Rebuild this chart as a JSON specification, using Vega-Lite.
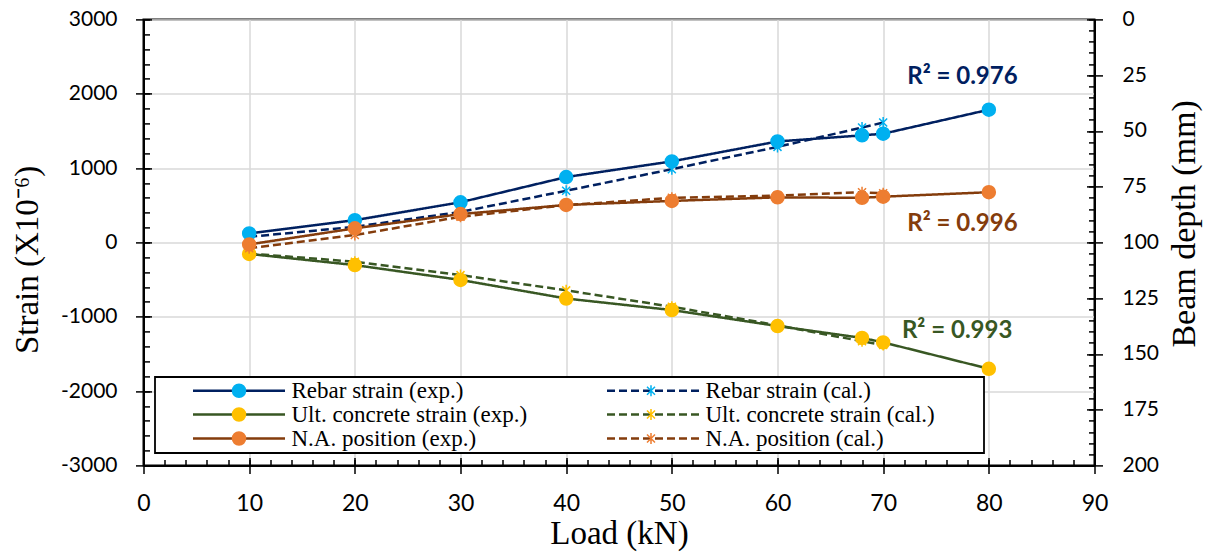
{
  "$schema": "https://vega.github.io/schema/vega-lite/v6.json",
  "width": 951,
  "height": 446,
  "autosize": {"type": "none"},
  "padding": {"left": 143.5, "top": 19.4, "right": 113.5, "bottom": 88.6},
  "background": "white",
  "config": {
    "font": "Lato",
    "view": {"stroke": "black", "strokeWidth": 2},
    "axis": {
      "domainColor": "black", "domainWidth": 2, "tickColor": "black", "tickWidth": 1.5,
      "labelColor": "black", "titleColor": "black", "titleFontWeight": "normal",
      "labelOverlap": false, "labelFlush": false, "labelBound": false,
      "gridColor": "#d9d9d9", "gridWidth": 1.5
    }
  },
  "datasets": {
    "strain": [
      {"load": 10, "series": "Rebar strain (exp.)", "strain": 121},
      {"load": 20, "series": "Rebar strain (exp.)", "strain": 299},
      {"load": 30, "series": "Rebar strain (exp.)", "strain": 540},
      {"load": 40, "series": "Rebar strain (exp.)", "strain": 879},
      {"load": 50, "series": "Rebar strain (exp.)", "strain": 1090},
      {"load": 60, "series": "Rebar strain (exp.)", "strain": 1358},
      {"load": 68, "series": "Rebar strain (exp.)", "strain": 1440},
      {"load": 70, "series": "Rebar strain (exp.)", "strain": 1462},
      {"load": 80, "series": "Rebar strain (exp.)", "strain": 1785},
      {"load": 10, "series": "Rebar strain (cal.)", "strain": 75},
      {"load": 20, "series": "Rebar strain (cal.)", "strain": 210},
      {"load": 30, "series": "Rebar strain (cal.)", "strain": 410},
      {"load": 40, "series": "Rebar strain (cal.)", "strain": 695},
      {"load": 50, "series": "Rebar strain (cal.)", "strain": 985},
      {"load": 60, "series": "Rebar strain (cal.)", "strain": 1285},
      {"load": 68, "series": "Rebar strain (cal.)", "strain": 1545},
      {"load": 70, "series": "Rebar strain (cal.)", "strain": 1612},
      {"load": 10, "series": "Ult. concrete strain (exp.)", "strain": -155},
      {"load": 20, "series": "Ult. concrete strain (exp.)", "strain": -305},
      {"load": 30, "series": "Ult. concrete strain (exp.)", "strain": -505},
      {"load": 40, "series": "Ult. concrete strain (exp.)", "strain": -755},
      {"load": 50, "series": "Ult. concrete strain (exp.)", "strain": -910},
      {"load": 60, "series": "Ult. concrete strain (exp.)", "strain": -1125},
      {"load": 68, "series": "Ult. concrete strain (exp.)", "strain": -1285},
      {"load": 70, "series": "Ult. concrete strain (exp.)", "strain": -1345},
      {"load": 80, "series": "Ult. concrete strain (exp.)", "strain": -1700},
      {"load": 10, "series": "Ult. concrete strain (cal.)", "strain": -150},
      {"load": 20, "series": "Ult. concrete strain (cal.)", "strain": -260},
      {"load": 30, "series": "Ult. concrete strain (cal.)", "strain": -440},
      {"load": 40, "series": "Ult. concrete strain (cal.)", "strain": -645},
      {"load": 50, "series": "Ult. concrete strain (cal.)", "strain": -865},
      {"load": 60, "series": "Ult. concrete strain (cal.)", "strain": -1115},
      {"load": 68, "series": "Ult. concrete strain (cal.)", "strain": -1330},
      {"load": 70, "series": "Ult. concrete strain (cal.)", "strain": -1380}
    ],
    "depth": [
      {"load": 10, "series": "N.A. position (exp.)", "depth": 100.9},
      {"load": 20, "series": "N.A. position (exp.)", "depth": 93.7},
      {"load": 30, "series": "N.A. position (exp.)", "depth": 87.3},
      {"load": 40, "series": "N.A. position (exp.)", "depth": 83.2},
      {"load": 50, "series": "N.A. position (exp.)", "depth": 81.4},
      {"load": 60, "series": "N.A. position (exp.)", "depth": 79.8},
      {"load": 68, "series": "N.A. position (exp.)", "depth": 80.0},
      {"load": 70, "series": "N.A. position (exp.)", "depth": 79.5},
      {"load": 80, "series": "N.A. position (exp.)", "depth": 77.5},
      {"load": 10, "series": "N.A. position (cal.)", "depth": 102.6},
      {"load": 20, "series": "N.A. position (cal.)", "depth": 96.7},
      {"load": 30, "series": "N.A. position (cal.)", "depth": 88.5},
      {"load": 40, "series": "N.A. position (cal.)", "depth": 83.3},
      {"load": 50, "series": "N.A. position (cal.)", "depth": 80.0},
      {"load": 60, "series": "N.A. position (cal.)", "depth": 79.0},
      {"load": 68, "series": "N.A. position (cal.)", "depth": 77.5},
      {"load": 70, "series": "N.A. position (cal.)", "depth": 78.0}
    ]
  },
  "layer": [
    {
      "data": {"name": "strain"},
      "mark": {"type": "line", "strokeWidth": 2.5},
      "encoding": {
        "x": {
          "field": "load", "type": "quantitative",
          "scale": {"domain": [0, 90], "nice": false, "zero": false},
          "axis": {
            "orient": "bottom", "values": [0,10,20,30,40,50,60,70,80,90], "format": "d",
            "tickSize": 8, "grid": true,
            "labelFont": "Lato", "labelFontSize": 23, "labelPadding": 19,
            "title": "Load (kN)", "titleFont": "Liberation Serif", "titleFontSize": 33, "titlePadding": 2
          }
        },
        "y": {
          "field": "strain", "type": "quantitative",
          "scale": {"domain": [-3000, 3000], "nice": false, "zero": false},
          "axis": {
            "orient": "left", "values": [-3000,-2000,-1000,0,1000,2000,3000],
            "labelExpr": "'' + datum.value",
            "tickSize": 8, "grid": true,
            "labelFont": "Lato", "labelFontSize": 21, "labelPadding": 18.5,
            "title": "Strain (X10⁻⁶)", "titleFont": "Liberation Serif", "titleFontSize": 33,
            "titleAngle": -90, "titleX": -106.5, "titleY": 240, "titleAlign": "center", "titleBaseline": "alphabetic"
          }
        },
        "color": {
          "field": "series", "type": "nominal",
          "scale": {
            "domain": ["Rebar strain (exp.)","Ult. concrete strain (exp.)","N.A. position (exp.)","Rebar strain (cal.)","Ult. concrete strain (cal.)","N.A. position (cal.)"],
            "range": ["#002060","#385723","#843C0C","#002060","#385723","#843C0C"]
          },
          "legend": {
            "orient": "none", "legendX": 11.5, "legendY": 357.6, "columns": 2, "columnPadding": 38, "rowPadding": 0, "padding": 2,
            "gridAlign": "each",
            "title": "W", "titleOrient": "right", "titleColor": "transparent", "titleFontSize": 30, "titlePadding": 15,
            "labelFont": "Liberation Serif", "labelFontSize": 23, "labelColor": "black", "labelLimit": 400,
            "labelOffset": 41, "symbolOffset": 70.5, "symbolSize": 100, "symbolStrokeWidth": 2.5,
            "symbolType": "M-16.4,0M-9.2,0L9.2,0",
            "strokeColor": "black", "fillColor": "white",
            "encode": {"legend": {"update": {"strokeWidth": {"value": 1.8}}}}
          }
        },
        "strokeDash": {
          "field": "series", "type": "nominal",
          "scale": {
            "domain": ["Rebar strain (exp.)","Ult. concrete strain (exp.)","N.A. position (exp.)","Rebar strain (cal.)","Ult. concrete strain (cal.)","N.A. position (cal.)"],
            "range": [[1,0],[1,0],[1,0],[8,4],[8,4],[8,4]]
          },
          "legend": {
            "orient": "none", "legendX": 11.5, "legendY": 357.6, "columns": 2, "columnPadding": 38, "rowPadding": 0, "padding": 2,
            "gridAlign": "each",
            "title": "W", "titleOrient": "right", "titleColor": "transparent", "titleFontSize": 30, "titlePadding": 15,
            "labelFont": "Liberation Serif", "labelFontSize": 23, "labelColor": "black", "labelLimit": 400,
            "labelOffset": 41, "symbolOffset": 70.5, "symbolSize": 100, "symbolStrokeWidth": 2.5,
            "symbolType": "M-16.4,0M-9.2,0L9.2,0",
            "strokeColor": "black", "fillColor": "white",
            "encode": {"legend": {"update": {"strokeWidth": {"value": 1.8}}}}
          }
        }
      }
    },
    {
      "data": {"name": "strain"},
      "mark": {"type": "point", "filled": true, "size": 100, "strokeWidth": 1.5, "opacity": 1},
      "encoding": {
        "x": {
          "field": "load", "type": "quantitative",
          "scale": {"domain": [0, 90], "nice": false, "zero": false},
          "axis": {
            "orient": "bottom", "values": [0,2,4,6,8,10,12,14,16,18,20,22,24,26,28,30,32,34,36,38,40,42,44,46,48,50,52,54,56,58,60,62,64,66,68,70,72,74,76,78,80,82,84,86,88,90],
            "domain": false, "labels": true, "labelColor": "transparent", "labelFontSize": 6, "tickColor": "black", "grid": false, "tickSize": 6, "offset": -6, "title": null
          }
        },
        "y": {
          "field": "strain", "type": "quantitative",
          "scale": {"domain": [-3000, 3000], "nice": false, "zero": false},
          "axis": {
            "orient": "left", "values": [-3000,-2800,-2600,-2400,-2200,-2000,-1800,-1600,-1400,-1200,-1000,-800,-600,-400,-200,0,200,400,600,800,1000,1200,1400,1600,1800,2000,2200,2400,2600,2800,3000],
            "domain": false, "labels": true, "labelColor": "transparent", "labelFontSize": 6, "tickColor": "black", "grid": false, "tickSize": 6, "offset": -6, "title": null
          }
        },
        "fill": {
          "field": "series", "type": "nominal",
          "scale": {
            "domain": ["Rebar strain (exp.)","Ult. concrete strain (exp.)","N.A. position (exp.)","Rebar strain (cal.)","Ult. concrete strain (cal.)","N.A. position (cal.)","~"],
            "range": ["#00B0F0","#FFC000","#ED7D31","transparent","transparent","transparent","white"]
          },
          "legend": {
            "orient": "none", "legendX": 11.5, "legendY": 357.6, "columns": 2, "columnPadding": 38, "rowPadding": 0, "padding": 2,
            "gridAlign": "each", "title": null,
            "values": ["Rebar strain (exp.)","Ult. concrete strain (exp.)","N.A. position (exp.)","Rebar strain (cal.)","Ult. concrete strain (cal.)","N.A. position (cal.)"],
            "labelFont": "Liberation Serif", "labelFontSize": 23, "labelColor": "transparent", "labelLimit": 400,
            "labelOffset": 41, "symbolOffset": 70.5, "symbolSize": 100, "symbolStrokeWidth": 1.5
          }
        },
        "stroke": {
          "field": "series", "type": "nominal",
          "scale": {
            "domain": ["Rebar strain (exp.)","Ult. concrete strain (exp.)","N.A. position (exp.)","Rebar strain (cal.)","Ult. concrete strain (cal.)","N.A. position (cal.)","~"],
            "range": ["#00B0F0","#FFC000","#ED7D31","#00B0F0","#FFC000","#ED7D31","white"]
          },
          "legend": {
            "orient": "none", "legendX": 11.5, "legendY": 357.6, "columns": 2, "columnPadding": 38, "rowPadding": 0, "padding": 2,
            "gridAlign": "each", "title": null,
            "values": ["Rebar strain (exp.)","Ult. concrete strain (exp.)","N.A. position (exp.)","Rebar strain (cal.)","Ult. concrete strain (cal.)","N.A. position (cal.)"],
            "labelFont": "Liberation Serif", "labelFontSize": 23, "labelColor": "transparent", "labelLimit": 400,
            "labelOffset": 41, "symbolOffset": 70.5, "symbolSize": 100, "symbolStrokeWidth": 1.5
          }
        },
        "shape": {
          "field": "series", "type": "nominal",
          "scale": {
            "domain": ["Rebar strain (exp.)","Ult. concrete strain (exp.)","N.A. position (exp.)","Rebar strain (cal.)","Ult. concrete strain (cal.)","N.A. position (cal.)","~"],
            "range": [
              "M-16.4,0M9.2,0M-1.3,0A1.3,1.3,0,1,0,1.3,0A1.3,1.3,0,1,0,-1.3,0Z",
              "M-16.4,0M9.2,0M-1.3,0A1.3,1.3,0,1,0,1.3,0A1.3,1.3,0,1,0,-1.3,0Z",
              "M-16.4,0M9.2,0M-1.3,0A1.3,1.3,0,1,0,1.3,0A1.3,1.3,0,1,0,-1.3,0Z",
              "M-16.4,0M9.2,0M0,-1.1L0,1.1M-0.8,-0.8L0.8,0.8M-0.8,0.8L0.8,-0.8",
              "M-16.4,0M9.2,0M0,-1.1L0,1.1M-0.8,-0.8L0.8,0.8M-0.8,0.8L0.8,-0.8",
              "M-16.4,0M9.2,0M0,-1.1L0,1.1M-0.8,-0.8L0.8,0.8M-0.8,0.8L0.8,-0.8",
              "circle"
            ]
          },
          "legend": {
            "orient": "none", "legendX": 11.5, "legendY": 357.6, "columns": 2, "columnPadding": 38, "rowPadding": 0, "padding": 2,
            "gridAlign": "each", "title": null,
            "values": ["Rebar strain (exp.)","Ult. concrete strain (exp.)","N.A. position (exp.)","Rebar strain (cal.)","Ult. concrete strain (cal.)","N.A. position (cal.)"],
            "labelFont": "Liberation Serif", "labelFontSize": 23, "labelColor": "transparent", "labelLimit": 400,
            "labelOffset": 41, "symbolOffset": 70.5, "symbolSize": 100, "symbolStrokeWidth": 1.5
          }
        }
      }
    },
    {
      "data": {"values": [{"label": "R² = 0.976"}]},
      "mark": {"type": "text", "font": "Lato", "fontWeight": "bold", "fontSize": 24, "color": "#002060", "align": "center", "baseline": "middle"},
      "encoding": {
        "x": {
          "datum": 77.5, "type": "quantitative",
          "scale": {"domain": [0, 90], "nice": false, "zero": false},
          "axis": {
            "orient": "bottom", "values": [0,10,20,30,40,50,60,70,80,90],
            "domain": false, "labels": true, "labelColor": "transparent", "labelFontSize": 6, "tickColor": "black", "grid": false, "tickSize": 8, "offset": -8, "title": null
          }
        },
        "y": {
          "datum": 2230, "type": "quantitative",
          "scale": {"domain": [-3000, 3000], "nice": false, "zero": false},
          "axis": {
            "orient": "left", "values": [-3000,-2000,-1000,0,1000,2000,3000],
            "domain": false, "labels": true, "labelColor": "transparent", "labelFontSize": 6, "tickColor": "black", "grid": false, "tickSize": 8, "offset": -8, "title": null
          }
        },
        "text": {"field": "label"}
      }
    },
    {
      "data": {"values": [{"label": "R² = 0.993"}]},
      "mark": {"type": "text", "font": "Lato", "fontWeight": "bold", "fontSize": 24, "color": "#385723", "align": "center", "baseline": "middle"},
      "encoding": {
        "x": {"datum": 77.0, "type": "quantitative", "scale": {"domain": [0, 90], "nice": false, "zero": false}, "axis": null},
        "y": {"datum": -1196, "type": "quantitative", "scale": {"domain": [-3000, 3000], "nice": false, "zero": false}, "axis": null},
        "text": {"field": "label"}
      }
    },
    {
      "data": {"name": "depth"},
      "mark": {"type": "line", "strokeWidth": 2.5},
      "encoding": {
        "x": {"field": "load", "type": "quantitative", "scale": {"domain": [0, 90], "nice": false, "zero": false}, "axis": null},
        "y": {
          "field": "depth", "type": "quantitative",
          "scale": {"domain": [0, 200], "reverse": true, "nice": false, "zero": false},
          "axis": {
            "orient": "right", "values": [0,25,50,75,100,125,150,175,200], "format": "d",
            "tickSize": 8, "grid": false,
            "labelFont": "Lato", "labelFontSize": 21, "labelPadding": 19.5,
            "title": "Beam depth (mm)", "titleFont": "Liberation Serif", "titleFontSize": 34,
            "titleAngle": -90, "titleX": 99.5, "titleY": 204, "titleAlign": "center", "titleBaseline": "alphabetic"
          }
        },
        "color": {"field": "series", "type": "nominal"},
        "strokeDash": {"field": "series", "type": "nominal"}
      }
    },
    {
      "data": {"name": "depth"},
      "mark": {"type": "point", "filled": true, "size": 100, "strokeWidth": 1.5, "opacity": 1},
      "encoding": {
        "x": {"field": "load", "type": "quantitative", "scale": {"domain": [0, 90], "nice": false, "zero": false}, "axis": null},
        "y": {
          "field": "depth", "type": "quantitative",
          "scale": {"domain": [0, 200], "reverse": true, "nice": false, "zero": false},
          "axis": {
            "orient": "right", "values": [0,5,10,15,20,25,30,35,40,45,50,55,60,65,70,75,80,85,90,95,100,105,110,115,120,125,130,135,140,145,150,155,160,165,170,175,180,185,190,195,200],
            "domain": false, "labels": true, "labelColor": "transparent", "labelFontSize": 6, "tickColor": "black", "grid": false, "tickSize": 6, "offset": -6, "title": null
          }
        },
        "fill": {"field": "series", "type": "nominal"},
        "stroke": {"field": "series", "type": "nominal"},
        "shape": {"field": "series", "type": "nominal"}
      }
    },
    {
      "data": {"values": [{"label": "R² = 0.996"}]},
      "mark": {"type": "text", "font": "Lato", "fontWeight": "bold", "fontSize": 24, "color": "#843C0C", "align": "center", "baseline": "middle"},
      "encoding": {
        "x": {"datum": 77.5, "type": "quantitative", "scale": {"domain": [0, 90], "nice": false, "zero": false}, "axis": null},
        "y": {
          "datum": 91.8, "type": "quantitative",
          "scale": {"domain": [0, 200], "reverse": true, "nice": false, "zero": false},
          "axis": {
            "orient": "right", "values": [0,25,50,75,100,125,150,175,200],
            "domain": false, "labels": true, "labelColor": "transparent", "labelFontSize": 6, "tickColor": "black", "grid": false, "tickSize": 8, "offset": -8, "title": null
          }
        },
        "text": {"field": "label"}
      }
    }
  ],
  "resolve": {"scale": {"y": "independent"}, "axis": {"x": "independent", "y": "independent"}}
}
